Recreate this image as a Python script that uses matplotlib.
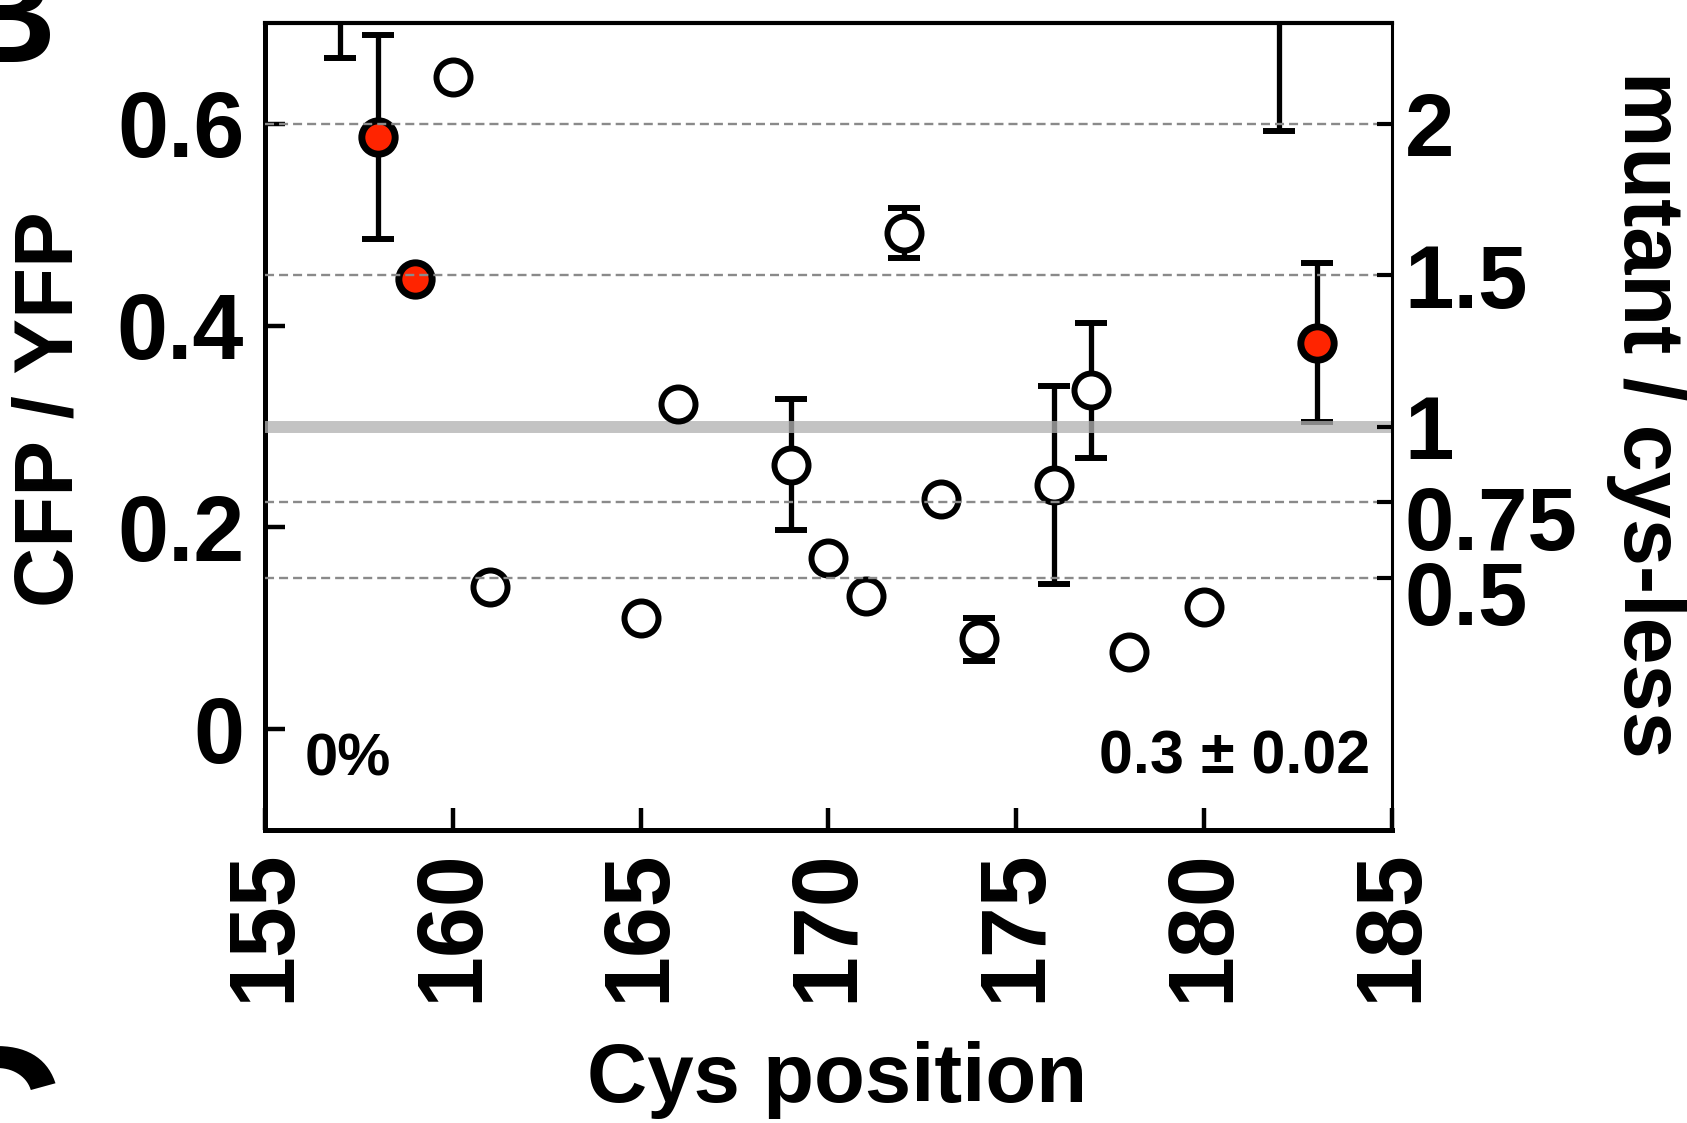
import numpy as np
import matplotlib
matplotlib.use('Agg')
import matplotlib.pyplot as plt
from matplotlib.transforms import ScaledTranslation

plt.rcParams['font.family'] = ['Liberation Sans', 'DejaVu Sans']
plt.rcParams['lines.scale_dashes'] = False

# ---- data ----
open_pos = [157, 160, 161, 165, 166, 169, 170, 171, 172, 173, 174, 176, 177, 178, 180, 182]
open_val = [0.76, 0.646, 0.141, 0.110, 0.322, 0.262, 0.170, 0.132, 0.492, 0.228, 0.089, 0.242, 0.336, 0.076, 0.121, 0.80]
open_err = [0.095, 0, 0, 0, 0, 0.065, 0, 0, 0.025, 0, 0.021, 0.098, 0.067, 0, 0, 0.207]

red_pos = [158, 159, 183]
red_val = [0.587, 0.446, 0.383]
red_err = [0.101, 0, 0.079]

cysless = 0.3
ratio_ticks = [0.5, 0.75, 1, 1.5, 2]
ratio_labels = ['0.5', '0.75', '1', '1.5', '2']
dashed_ratios = [0.5, 0.75, 1.5, 2]
left_ticks = [0, 0.2, 0.4, 0.6]
left_labels = ['0', '0.2', '0.4', '0.6']
x_ticks = [155, 160, 165, 170, 175, 180, 185]

W, H = 1687, 1123
fig = plt.figure(figsize=(W / 100, H / 100), dpi=100)
ax = fig.add_axes([265 / W, 1 - 830 / H, (1392 - 265) / W, (830 - 23) / H])

# error bars (drawn first)
for pos, val, err in [(open_pos, open_val, open_err), (red_pos, red_val, red_err)]:
    pos, val, err = np.array(pos), np.array(val), np.array(err)
    m = err > 0
    ax.errorbar(pos[m], val[m], yerr=err[m], fmt='none', ecolor='black',
                elinewidth=3.8, capsize=11.5, capthick=4.3, zorder=2)

# cys-less reference line
ax.axhline(cysless, color='#b1b1b1', alpha=0.77, lw=8.6, zorder=3)

# markers
ax.plot(open_pos, open_val, 'o', ms=24.5, mfc='white', mec='black', mew=4.3,
        zorder=4)
ax.plot(red_pos, red_val, 'o', ms=24, mfc='#ff2400', mec='black', mew=5,
        zorder=4)

# dashed ratio guides
for r in dashed_ratios:
    ax.axhline(r * cysless, color='#8a8a8a', lw=1.7, ls=(0, (6.5, 3.6)), zorder=5)

ax.set_xlim(155, 185)
ax.set_ylim(-0.1, 0.7)
ax.set_xticks(x_ticks)
ax.set_xticklabels([str(t) for t in x_ticks], rotation=90, fontsize=66,
                   fontweight='bold')
ax.set_yticks(left_ticks)
ax.set_yticklabels(left_labels, fontsize=66, fontweight='bold')
ax.tick_params(axis='x', direction='in', length=16, width=3.2, pad=14, top=False)
ax.tick_params(axis='y', direction='in', length=14.5, width=3.2, pad=15, right=False)

ax.spines['left'].set_linewidth(3.6)
ax.spines['bottom'].set_linewidth(3.6)
ax.spines['top'].set_linewidth(3.0)
ax.spines['right'].set_visible(False)

ax.set_ylabel('CFP / YFP', fontsize=60, fontweight='bold', va='center')
ax.yaxis.set_label_coords(-0.19, 0.522)
ax.set_xlabel('Cys position', fontsize=60, fontweight='bold', va='center')
ax.xaxis.set_label_coords(0.5075, -0.31)

ax.text(0.0355, 0.068, '0%', transform=ax.transAxes, fontsize=43,
        fontweight='bold', ha='left', va='baseline')
ax.text(0.9805, 0.0706, '0.3 \u00b1 0.02', transform=ax.transAxes, fontsize=44,
        fontweight='bold', ha='right', va='baseline')

# right axis: mutant / cys-less ratio
ax2 = ax.twinx()
ax2.set_ylim(-0.1 / cysless, 0.7 / cysless)
ax2.set_yticks(ratio_ticks)
ax2.set_yticklabels(ratio_labels, fontsize=64, fontweight='bold')
ax2.tick_params(axis='y', direction='in', length=11, width=3.0, pad=9)
for s in ['left', 'top', 'bottom']:
    ax2.spines[s].set_visible(False)
ax2.spines['right'].set_linewidth(2.2)
shift = ScaledTranslation(0, -0.15, fig.dpi_scale_trans)
for lab in ax2.get_yticklabels():
    if lab.get_text() in ('0.75', '0.5'):
        lab.set_transform(lab.get_transform() + shift)
ax2.set_ylabel('mutant / cys-less', fontsize=61, fontweight='bold',
               rotation=-90, va='center')
ax2.yaxis.set_label_coords(1.2254, 0.515)

# cut-off panel letters at the figure edge
fig.text(56 / W, 1 - 62 / H, 'B', fontsize=100, fontweight='bold',
         ha='right', va='baseline')
fig.text(62 / W, 1 - 1182 / H, 'C', fontsize=140, fontweight='bold',
         ha='right', va='baseline')

fig.savefig('out.png', dpi=100)
